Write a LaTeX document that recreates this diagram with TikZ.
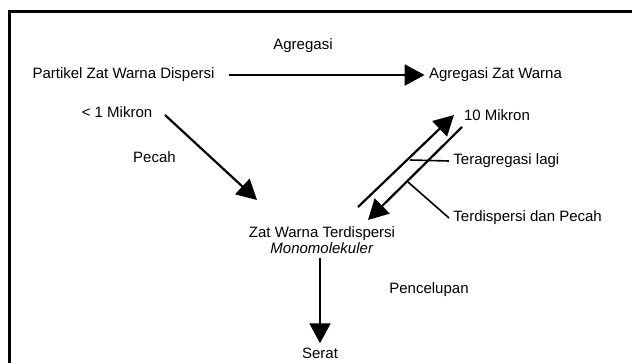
\documentclass[tikz,border=0pt]{standalone}
\usepackage{fontspec}
\setmainfont{Liberation Sans}
\usetikzlibrary{arrows.meta, positioning}

\begin{document}
\begin{tikzpicture}[->,
					>={Triangle[length=20pt,width=21pt]},
					line width=2.2pt,
					x=1pt, y=-1pt,
					every node/.style={font=\fontsize{15}{16}\selectfont},
					lead/.style={-, line width=1.6pt}]

	\useasboundingbox (0,0) rectangle (632,363);
	\draw[-, line width=3pt] (9,363) -- (9,12) -- (632,12);

	\node (pz) at (123.5,75)  {Partikel Zat Warna Dispersi};
	\node (az) at (495.5,75)  {Agregasi Zat Warna};
	\node (ag) at (303,46)  {Agregasi};
	\node (m1) at (117,112)  {< 1 Mikron};
	\node (pc) at (154.5,157)  {Pecah};
	\node[align=center] (zw) at (322,240)  {Zat Warna Terdispersi\\ \textit{Monomolekuler}};
	\node (s) at (320,353)  {Serat};
	\node (pn) at (429,290)  {Pencelupan};
	\node (m10) at (497,115)  {10 Mikron};
	\node[anchor=west] (tl) at (449,161)  {Teragregasi lagi};
	\node[anchor=west] (tp) at (449,218)  {Terdispersi dan Pecah};

	\coordinate (p1) at (165,115);
	\coordinate (p2) at (257,200);
	\coordinate (u1) at (358,207);
	\coordinate (u2) at (454,115);
	\coordinate (d1) at (462,127);
	\coordinate (d2) at (368,220);
	\coordinate (l1) at (410,160);
	\coordinate (l2) at (408,182);

	\draw[shorten <=10pt] (pz.east) -- (az.west);
	\draw (p1) -- (p2);
	\draw (u1) -- (u2);
	\draw (d1) -- (d2);
	\draw (zw.south -| s.north) -- (s.north);

	\draw[lead] (l1) -- (tl.west);
	\draw[lead] (l2) -- (tp.west);
\end{tikzpicture}
\end{document}
